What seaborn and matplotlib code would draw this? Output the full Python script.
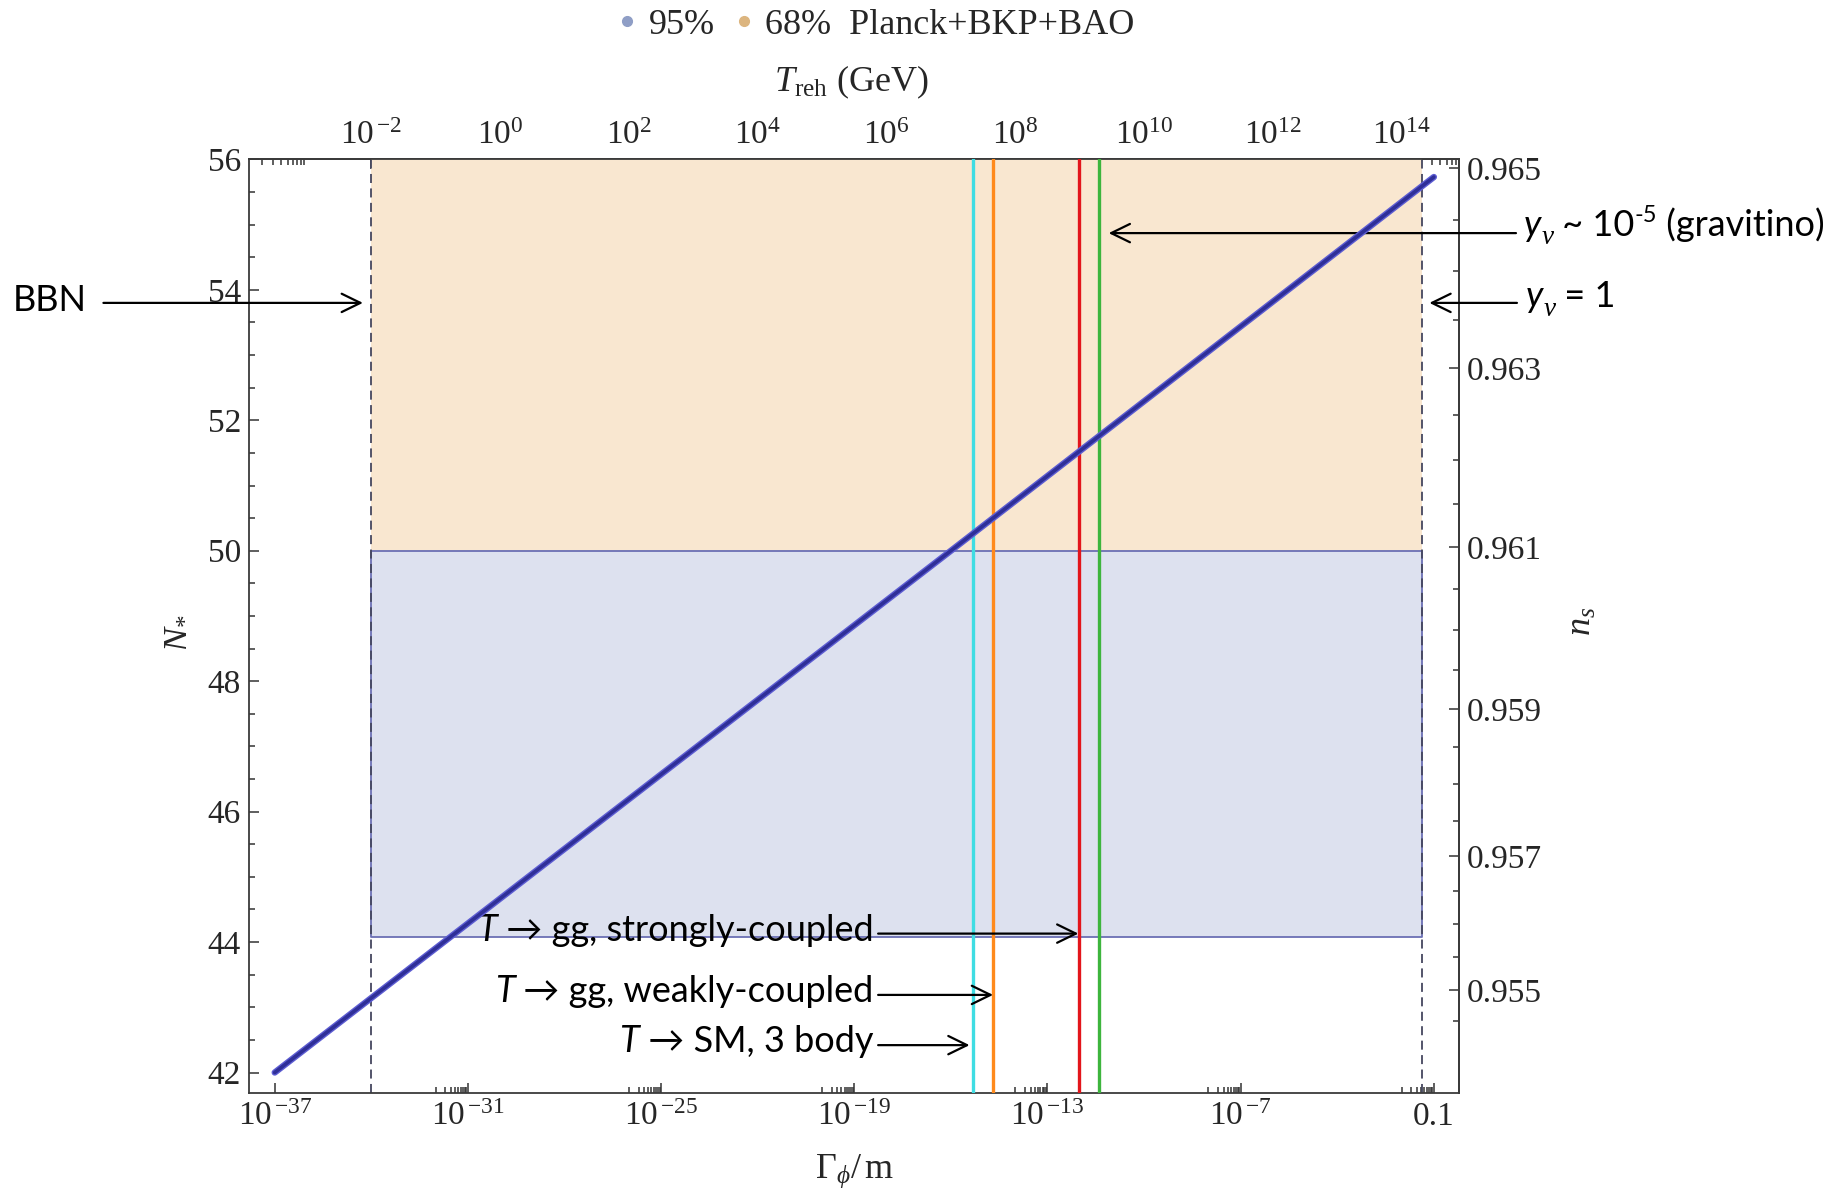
import numpy as np
import pandas as pd
import matplotlib
matplotlib.use("Agg")
import matplotlib.pyplot as plt
import seaborn as sns
from matplotlib.lines import Line2D
from matplotlib.ticker import NullFormatter

# N* against log10(Gamma_phi / m)
curve_log_gamma = [-37.0, -16.0, -1.0]
curve_n_star = [42.0, 50.0, 55.73]

# Planck+BKP+BAO regions in N*
band_95 = [44.08, 50.0]
band_68 = [50.0, 56.0]
legend_labels = ["95%", "68%  Planck+BKP+BAO"]
legend_colors = ["#8f9ec6", "#dcb57f"]

# bounds in log10(Gamma/m): BBN and y_nu = 1
bbn_log_gamma = -34.0
ynu1_log_gamma = -1.38

# decay channels, log10(Gamma/m)
channel_names = ["T -> SM, 3 body", "T -> gg, weakly", "T -> gg, strongly", "gravitino"]
channel_log_gamma = [-15.32, -14.70, -12.01, -11.39]
channel_colors = ["#3fdde3", "#ff8a1c", "#e3151b", "#3db53d"]

# axes
xlim_log = [-37.79, -0.21]
ylim_n = [41.69, 56.0]
bottom_major_exp = [-37, -31, -25, -19, -13, -7, -1]
top_major_exp = [-2, 0, 2, 4, 6, 8, 10, 12, 14]
n_star_ticks = [42, 44, 46, 48, 50, 52, 54, 56]
ns_ticks = [0.955, 0.957, 0.959, 0.961, 0.963, 0.965]

# n_s from N*: 1/(1 - n_s) = a N* + b
ns_a, ns_b = 0.504, 0.415
# T_reh from Gamma/m: log10 T = log10(Gamma)/2 + 15
treh_offset = 15.0

sns.set_theme(style="ticks")
plt.rcParams["font.family"] = ["Liberation Serif", "DejaVu Serif"]
plt.rcParams["mathtext.fontset"] = "custom"
plt.rcParams["mathtext.rm"] = "Liberation Serif"
plt.rcParams["mathtext.it"] = "Liberation Serif:italic"
plt.rcParams["mathtext.bf"] = "Liberation Serif:bold"

SANS = ["Lato", "DejaVu Sans"]
FS = 26
TICK_FS = 24
LABEL_FS = 26
INK = "#262626"


def pow_label(e):
    if e == -1:
        return "0.1"
    if e < 0:
        return "10$^{\\,\\mathregular{-%d}}$" % (-e)
    return "10$^{\\mathregular{%d}}$" % e


fig = plt.figure(figsize=(18.37, 11.94), dpi=100)
ax = fig.add_axes([0.1357, 0.0848, 0.6587, 0.7817])
ax.set_xscale("log")

# shaded regions between BBN and y_nu = 1
x_band = [10.0 ** bbn_log_gamma, 10.0 ** ynu1_log_gamma]
ax.fill_between(x_band, band_68[0], band_68[1], color="#f9e7d0", lw=0, zorder=1)
ax.fill_between(x_band, band_95[0], band_95[1], facecolor="#dde1ef",
                edgecolor="#6b70b4", lw=1.3, zorder=1.5)

for lg in [bbn_log_gamma, ynu1_log_gamma]:
    ax.axvline(10.0 ** lg, color="#45475f", lw=1.3, ls=(0, (5, 3)), zorder=2)

for lg, c in zip(channel_log_gamma, channel_colors):
    ax.axvline(10.0 ** lg, color=c, lw=2.4, zorder=3)

df = pd.DataFrame({"gamma": [10.0 ** g for g in curve_log_gamma], "N": curve_n_star})
sns.lineplot(data=df, x="gamma", y="N", color="#5d5dd2", lw=4.6, ax=ax, zorder=4)
sns.lineplot(data=df, x="gamma", y="N", color="#2f2f98", lw=2.6, ax=ax, zorder=5)

# bottom / left ticks
ax.set_xticks([10.0 ** e for e in bottom_major_exp], labels=[pow_label(e) for e in bottom_major_exp])
ax.set_xticks([k * 10.0 ** (e - 1) for e in bottom_major_exp[1:] for k in range(1, 10)], minor=True)
ax.xaxis.set_minor_formatter(NullFormatter())
ax.set_yticks(n_star_ticks)
ax.set_yticks(np.arange(42.0, 56.01, 0.5), minor=True)
ax.set_xlim(10.0 ** xlim_log[0], 10.0 ** xlim_log[1])
ax.set_ylim(ylim_n)
ax.tick_params(which="both", direction="in", top=False, right=False,
               labelsize=TICK_FS, labelcolor=INK, color="#333333", width=1.1)
ax.tick_params(which="major", length=7, pad=6)
ax.tick_params(which="minor", length=4.5)
for s in ax.spines.values():
    s.set_color("#3a3a3a")
    s.set_linewidth(1.3)


def to_treh(g):
    return 10.0 ** treh_offset * np.sqrt(np.clip(np.asarray(g, float), 1e-300, None))


def to_gamma(t):
    return (np.asarray(t, float) / 10.0 ** treh_offset) ** 2


top = ax.secondary_xaxis("top", functions=(to_treh, to_gamma))
top.set_xticks([10.0 ** e for e in top_major_exp], labels=[pow_label(e) for e in top_major_exp])
top.set_xticks([k * 10.0 ** e for e in [-4] + top_major_exp for k in range(2, 10)], minor=True)
top.xaxis.set_minor_formatter(NullFormatter())
top.tick_params(which="both", direction="in", labelsize=TICK_FS, labelcolor=INK,
                color="#333333", width=1.1)
top.tick_params(which="major", length=7, pad=6)
top.tick_params(which="minor", length=4.5)
top.spines["top"].set_color("#3a3a3a")
top.spines["top"].set_linewidth(1.3)


def to_ns(n):
    with np.errstate(divide="ignore", invalid="ignore"):
        return 1 - 1 / (ns_a * np.asarray(n, float) + ns_b)


def to_n(ns):
    with np.errstate(divide="ignore", invalid="ignore"):
        return (1 / (1 - np.asarray(ns, float)) - ns_b) / ns_a


right = ax.secondary_yaxis("right", functions=(to_ns, to_n))
right.set_yticks(ns_ticks, labels=["%.3f" % v for v in ns_ticks])
right.set_yticks(np.arange(0.9545, 0.96501, 0.0005), minor=True)
right.yaxis.set_minor_formatter(NullFormatter())
right.tick_params(which="both", direction="in", labelsize=TICK_FS, labelcolor=INK,
                  color="#333333", width=1.1)
right.tick_params(which="major", length=7, pad=5)
right.tick_params(which="minor", length=4.5)
right.spines["right"].set_color("#3a3a3a")
right.spines["right"].set_linewidth(1.3)

# axis labels
ax.set_xlabel(r"$\mathregular{\Gamma}_{\phi}\mathregular{/\,m}$", fontsize=LABEL_FS, color=INK, va="center")
ax.xaxis.set_label_coords(0.5, -0.084)
ax.set_ylabel(r"$N_{*}$", fontsize=LABEL_FS, color=INK, rotation=90, va="center", ha="center")
ax.yaxis.set_label_coords(-0.0606, 0.4925)
top.set_xlabel(r"$\mathit{T}_{\mathregular{reh}}$ (GeV)", fontsize=LABEL_FS, color=INK, va="center")
top.xaxis.set_label_coords(0.498, 1.0828, transform=ax.transAxes)
right.set_ylabel(r"$n_{s}$", fontsize=LABEL_FS, color=INK, rotation=90, va="center", ha="center")
right.yaxis.set_label_coords(1.1014, 0.505, transform=ax.transAxes)

# legend on top
handles = [Line2D([], [], ls="", marker="o", ms=7, color=c) for c in legend_colors]
fig.legend(handles, legend_labels, loc="center", bbox_to_anchor=(0.4766, 0.979), ncol=2,
           frameon=False, fontsize=26, handlelength=0.6, handletextpad=0.3, columnspacing=0.5,
           labelcolor=INK)


# annotations
def arrow(x0, x1, y):
    ax.annotate("", xy=(10.0 ** x1, y), xytext=(10.0 ** x0, y), annotation_clip=False,
                arrowprops=dict(arrowstyle="->,head_length=0.45,head_width=0.22", lw=1.6,
                                color="black", shrinkA=0, shrinkB=0, mutation_scale=30))


def chain_text(x, y, parts, ha="left"):
    # pieces set one after another on a common baseline
    order = parts if ha == "left" else parts[::-1]
    prev = None
    for s, kw in order:
        kw = dict(kw)
        dy = kw.pop("dy", 0)
        if prev is None:
            xy, coords = (10.0 ** x, y), "data"
        else:
            xy, coords = ((1 if ha == "left" else 0), y), (prev, "data")
        prev = ax.annotate(s, xy=xy, xycoords=coords, xytext=(0, dy), textcoords="offset points",
                           ha=ha, va="baseline", annotation_clip=False, color="black", **kw)


up = dict(family=SANS, fontsize=FS)
it = dict(family=SANS, fontsize=FS, fontstyle="italic")
nu = dict(family=["Liberation Serif", "DejaVu Serif"], fontsize=FS * 0.75, fontstyle="italic", dy=-6)
sup = dict(family=SANS, fontsize=FS * 0.65, dy=10)

ax.text(10.0 ** -45.15, 53.67, "BBN", ha="left", va="baseline", color="black", **up)
arrow(-42.32, -34.26, 53.80)

chain_text(1.80, 54.83, [("y", it), ("\u03bd", nu), (" ~ 10", up), ("-5", sup), (" (gravitino)", up)])
arrow(1.55, -11.10, 54.87)

chain_text(1.86, 53.73, [("y", it), ("\u03bd", nu), (" = 1", up)])
arrow(1.58, -1.14, 53.80)

bottom_notes = [(" \u2192 gg, strongly-coupled", 44.13, -12.04),
                (" \u2192 gg, weakly-coupled", 43.19, -14.69),
                (" \u2192 SM, 3 body", 42.42, -15.42)]
for txt, yy, head in bottom_notes:
    chain_text(-18.40, yy - 0.11, [("T", it), (txt, up)], ha="right")
    arrow(-18.26, head, yy)

fig.savefig("out.png", dpi=100)
